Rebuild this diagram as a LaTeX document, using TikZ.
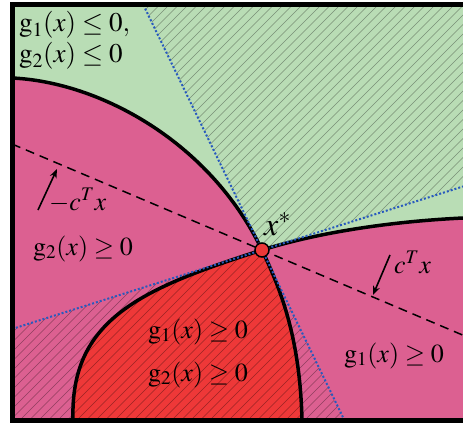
\documentclass[tikz,border=0pt]{standalone}
\usepackage{mathptmx}
\usetikzlibrary{arrows.meta}

\definecolor{feasgreen}{RGB}{185,221,181}
\definecolor{infpink}{RGB}{220,96,145}
\definecolor{bothred}{RGB}{238,56,56}
\definecolor{tanblue}{RGB}{40,90,190}

\begin{document}
\begin{tikzpicture}[x=1pt, y=-1pt,
    boundary/.style={line width=3.5pt},
    tangent/.style={tanblue, line width=2pt, dash pattern=on 2pt off 2pt},
    level/.style={line width=1.5pt, dash pattern=on 9pt off 6pt},
    hatch/.style={black, opacity=0.35, line width=0.5pt},
    lbl/.style={font=\fontsize{26}{30}\selectfont, inner sep=0pt, anchor=base west},
    gradarrow/.style={line width=1.6pt, -{Stealth[length=9pt, width=7pt]}}
]
\useasboundingbox (0,0) rectangle (463,425);

% Key points
\coordinate (xstar) at (262,250);
\coordinate (steeptop) at (143.4,5);
\coordinate (steepbot) at (344.3,420);
\coordinate (flatleft) at (12,329);
\coordinate (flatright) at (463,186.5);
\coordinate (levleft) at (12,144);
\coordinate (levright) at (463,335.2);

\begin{scope}
\clip (12,5) rectangle (463,420);

% Regions
\fill[infpink] (12,5) rectangle (463,420);
\fill[feasgreen] (12,5) -- (12,78) .. controls (100,82) and (210,142) .. (xstar)
    .. controls (310,235) and (380,222) .. (463,218) -- (463,5) -- cycle;
\fill[bothred] (73,420) .. controls (70,320) and (140,289) .. (xstar)
    .. controls (282,292) and (300,340) .. (302,420) -- cycle;

% Hatched cones
\begin{scope}
\clip (xstar) -- (steeptop) -- (463,5) -- (flatright) -- cycle
      (xstar) -- (flatleft) -- (12,420) -- (steepbot) -- cycle;
\foreach \a in {-460,-450.5,...,470}
    \draw[hatch] (\a,425) -- ++(425,-425);
\end{scope}

% Constraint boundaries
\draw[boundary] (12,78) .. controls (100,82) and (210,142) .. (xstar)
    .. controls (282,292) and (300,340) .. (302,420);
\draw[boundary] (73,420) .. controls (70,320) and (140,289) .. (xstar)
    .. controls (310,235) and (380,222) .. (463,218);

% Tangent lines and level line
\draw[tangent] (steeptop) -- (steepbot);
\draw[tangent] (flatleft) -- (flatright);
\draw[level] (levleft) -- (levright);
\end{scope}

% Optimum
\node[circle, draw, line width=1.5pt, fill=bothred, minimum size=14pt, inner sep=0pt] (opt) at (xstar) {};
\node[lbl, font=\fontsize{32}{36}\selectfont] (optlbl) at (264,235) {$x^*$};

% Labels
\node[lbl, font=\fontsize{27}{30}\selectfont] (feas1) at (19,32) {$\mathrm{g}_1(x) \leq 0,$};
\node[lbl, font=\fontsize{27}{30}\selectfont] (feas2) at (19,63) {$\mathrm{g}_2(x) \leq 0$};
\node[lbl] (inf2) at (33,255) {$\mathrm{g}_2(x) \geq 0$};
\node[lbl] (inf1) at (344,362) {$\mathrm{g}_1(x) \geq 0$};
\node[lbl] (both1) at (148,338) {$\mathrm{g}_1(x) \geq 0$};
\node[lbl] (both2) at (148,381) {$\mathrm{g}_2(x) \geq 0$};
\node[lbl] (neglbl) at (49,210) {$-c^T x$};
\node[lbl] (poslbl) at (394,273) {$c^T x$};

% Objective directions
\coordinate (negtail) at (38,210);
\coordinate (neghead) at (57,169);
\coordinate (postail) at (390,255);
\coordinate (poshead) at (373,295);
\draw[gradarrow] (negtail) -- (neghead);
\draw[gradarrow] (postail) -- (poshead);

% Frame
\draw[line width=5pt] (463,5) -- (12,5) -- (12,420) -- (463,420);

\end{tikzpicture}
\end{document}
